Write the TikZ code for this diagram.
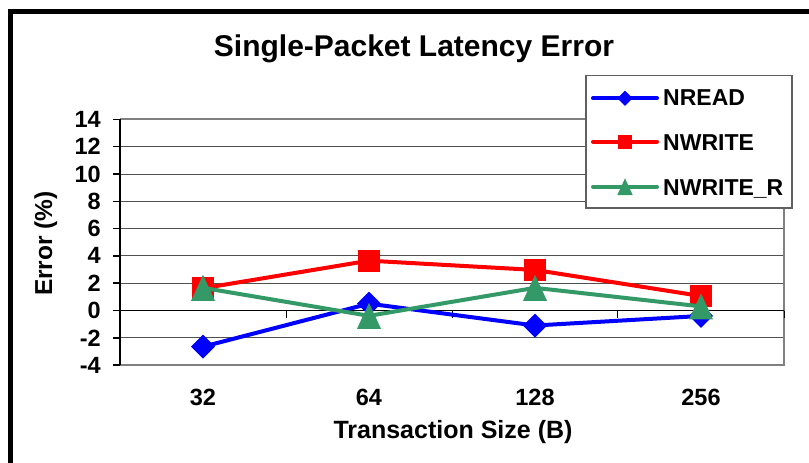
\documentclass[tikz,border=0pt]{standalone}
\usepackage{fontspec}
\setmainfont{Liberation Sans}
\definecolor{serblue}{RGB}{0,0,255}
\definecolor{serred}{RGB}{255,0,0}
\definecolor{sergreen}{RGB}{51,153,102}
\definecolor{plotborder}{RGB}{128,128,128}
\definecolor{gridcol}{RGB}{80,80,80}
\definecolor{legborder}{RGB}{96,96,96}

\tikzset{
  x=1pt, y=-1pt,
  ticklab/.style={font=\fontsize{23.5}{28}\selectfont\bfseries, inner sep=0pt},
  axtitle/.style={font=\fontsize{24.5}{29}\selectfont\bfseries, inner sep=0pt},
  legtext/.style={font=\fontsize{23}{27}\selectfont\bfseries, inner sep=0pt, anchor=base west},
  series/.style={line width=4pt, line join=round, line cap=round},
  mkdiamond/.pic={\fill[serblue] (-12,0) -- (0,-12) -- (12,0) -- (0,12) -- cycle;},
  mksquare/.pic={\fill[serred] (-11,-11) rectangle (11,11);},
  mktriangle/.pic={\fill[sergreen] (-12,13) -- (0,-13) -- (12,13) -- cycle;},
}

\begin{document}
\begin{tikzpicture}
\useasboundingbox (0,0) rectangle (809,463);
\clip (0,0) rectangle (809,463);
\fill[white] (0,0) rectangle (809,463);

% chart frame (runs off the lower and right edges)
\draw[line width=5pt] (10,480) -- (10,11.5) -- (830,11.5);

% title
\node[font=\fontsize{30}{36}\selectfont\bfseries, inner sep=0pt, anchor=base] (title) at (414,56.5) {Single-Packet Latency Error};

% value scale: v = 0 at y = 310.5, 13.65 units per percent
\begin{scope}[shift={(0,310.5)}, x=1pt, y=13.65pt]
  \foreach \v in {-4,-2,...,14} { \coordinate (gl\v) at (120,\v); \coordinate (gr\v) at (784,\v); }
  \coordinate (r1) at (203,-2.65); \coordinate (r2) at (369,0.5);  \coordinate (r3) at (535,-1.1); \coordinate (r4) at (701,-0.4);
  \coordinate (w1) at (203,1.63);  \coordinate (w2) at (369,3.65); \coordinate (w3) at (535,2.97); \coordinate (w4) at (701,1.06);
  \coordinate (q1) at (203,1.66);  \coordinate (q2) at (369,-0.39);\coordinate (q3) at (535,1.66); \coordinate (q4) at (701,0.3);
\end{scope}

% gridlines
\foreach \v in {-2,2,4,6,8,10,12} \draw[gridcol, line width=1pt] (gl\v) -- (gr\v);

% plot area border
\draw[plotborder, line width=2pt] (gl14) -- (gr14) -- (gr-4) -- (gl-4);

% category axis at zero with tick marks
\draw[black, line width=1pt] (gl0) -- (gr0);
\foreach \xx in {286,452,617,784} \draw[black, line width=1pt] (\xx,310.5) -- (\xx,318);

% value axis, ticks and labels
\draw[black, line width=1.5pt] (gl14) -- (gl-4);
\foreach \v in {-4,-2,...,14} {
  \draw[black, line width=1.5pt] (gl\v) -- ++(-7,0);
  \node[ticklab, anchor=east] (yl\v) at ([xshift=-19pt]gl\v) {\v};
}

% category labels
\node[ticklab, anchor=base] (c1) at (203,405) {32};
\node[ticklab, anchor=base] (c2) at (369,405) {64};
\node[ticklab, anchor=base] (c3) at (535,405) {128};
\node[ticklab, anchor=base] (c4) at (701,405) {256};

% axis titles
\node[axtitle, anchor=base, font=\fontsize{25}{30}\selectfont\bfseries] (xtitle) at (453,438) {Transaction Size (B)};
\node[axtitle, anchor=base, rotate=90] (ytitle) at (52,243.5) {Error (\%)};

% series
\draw[series, serblue] (r1) -- (r2) -- (r3) -- (r4);
\foreach \p in {r1,r2,r3,r4} \pic at (\p) {mkdiamond};
\draw[series, serred] (w1) -- (w2) -- (w3) -- (w4);
\foreach \p in {w1,w2,w3,w4} \pic at (\p) {mksquare};
\draw[series, sergreen] (q1) -- (q2) -- (q3) -- (q4);
\foreach \p in {q1,q2,q3,q4} \pic at (\p) {mktriangle};

% legend
\node[draw=legborder, fill=white, line width=1.5pt, minimum width=206pt, minimum height=132.6pt, inner sep=0pt, anchor=north west] (legend) at (585,74.7) {};
\coordinate (la1) at (593,98.3);  \coordinate (lb1) at (657,98.3);  \coordinate (lm1) at (625,98.3);
\coordinate (la2) at (593,141.7); \coordinate (lb2) at (657,141.7); \coordinate (lm2) at (625,141.7);
\coordinate (la3) at (593,186.7); \coordinate (lb3) at (657,186.7); \coordinate (lm3) at (625,186.7);
\draw[series, serblue] (la1) -- (lb1);  \pic[scale=0.64] at (lm1) {mkdiamond};
\draw[series, serred] (la2) -- (lb2);   \pic[scale=0.64] at (lm2) {mksquare};
\draw[series, sergreen] (la3) -- (lb3); \pic[scale=0.64] at (lm3) {mktriangle};
\node[legtext] (t1) at (663,105) {NREAD};
\node[legtext] (t2) at (663,150) {NWRITE};
\node[legtext] (t3) at (663,195) {NWRITE\_R};
\end{tikzpicture}
\end{document}
